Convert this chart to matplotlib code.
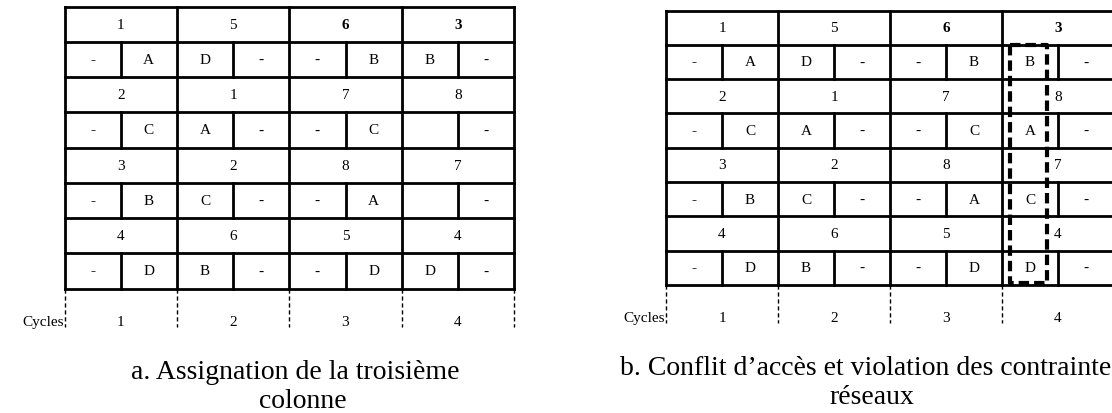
import numpy as np
import matplotlib.pyplot as plt

plt.rcParams['font.family'] = ['Liberation Serif', 'DejaVu Serif']

# numbers (top half of each step), one list per step
ids = [["1", "5", "6", "3"],
       ["2", "1", "7", "8"],
       ["3", "2", "8", "7"],
       ["4", "6", "5", "4"]]
# letters (bottom half), two slots per cycle
slots_a = [["-", "A", "D", "-", "-", "B", "B", "-"],
           ["-", "C", "A", "-", "-", "C", "", "-"],
           ["-", "B", "C", "-", "-", "A", "", "-"],
           ["-", "D", "B", "-", "-", "D", "D", "-"]]
slots_b = [["-", "A", "D", "-", "-", "B", "B", "-"],
           ["-", "C", "A", "-", "-", "C", "A", "-"],
           ["-", "B", "C", "-", "-", "A", "C", "-"],
           ["-", "D", "B", "-", "-", "D", "D", "-"]]
cycles = ["1", "2", "3", "4"]
captions = [["a. Assignation de la troisième", "colonne"],
            ["b. Conflit d\u2019accès et violation des contraintes", "réseaux"]]

fig = plt.figure(figsize=(11.12, 4.14), dpi=100)
ax = fig.add_axes([0, 0, 1, 1])
ax.set_xlim(0, 1112)
ax.set_ylim(414, 0)
ax.axis('off')

fs = 11
lw = 2.0


def draw_table(x0, y0, cw, rh, slots):
    n = len(ids)
    bottom = y0 + 2 * n * rh
    right = x0 + 4 * cw
    # horizontal lines
    for k in range(2 * n + 1):
        ax.plot([x0, right], [y0 + k * rh, y0 + k * rh], color='black', lw=lw,
                solid_capstyle='projecting')
    # column lines
    for j in range(5):
        ax.plot([x0 + j * cw, x0 + j * cw], [y0, bottom], color='black', lw=lw)
    # split lines in the letter rows
    for i in range(n):
        ya = y0 + (2 * i + 1) * rh
        for j in range(4):
            xs = x0 + (j + 0.5) * cw
            ax.plot([xs, xs], [ya, ya + rh], color='black', lw=lw)
    # texts
    for i in range(n):
        yn = y0 + (2 * i + 0.5) * rh
        yl = y0 + (2 * i + 1.5) * rh
        for j in range(4):
            w = 'bold' if (i == 0 and j >= 2) else 'normal'
            ax.text(x0 + (j + 0.5) * cw, yn, ids[i][j], ha='center', va='center',
                    fontsize=fs, fontweight=w)
        for k in range(8):
            w = 'bold' if k == 0 else 'normal'
            ax.text(x0 + (k + 0.5) * cw / 2, yl, slots[i][k], ha='center',
                    va='center', fontsize=fs, fontweight=w)
    # cycles row
    for j in range(5):
        ax.plot([x0 + j * cw, x0 + j * cw], [bottom, bottom + 38], color='black',
                lw=1.0, dashes=(3, 2))
    for j, c in enumerate(cycles):
        ax.text(x0 + (j + 0.5) * cw, bottom + 33, c, ha='center', va='center',
                fontsize=fs)
    ax.text(x0 - 1, bottom + 33, "Cycles", ha='right', va='center', fontsize=fs)
    return bottom


draw_table(64.5, 7.5, 112.4, 35.25, slots_a)
bot_b = draw_table(666, 11.5, 112, 34.3, slots_b)

# conflict box around the fourth cycle's first slot
bx0, bx1 = 666 + 3 * 112 + 8, 666 + 3 * 112 + 45
by0, by1 = 11.5 + 34.3, bot_b - 2
ax.plot([bx0, bx1, bx1, bx0, bx0], [by0, by0, by1, by1, by0], color='black',
        lw=3.0, dashes=(2.5, 1.2))

ax.text(295, 379, captions[0][0], ha='center', va='baseline', fontsize=20)
ax.text(303, 408, captions[0][1], ha='center', va='baseline', fontsize=20)
ax.text(871, 375, captions[1][0], ha='center', va='baseline', fontsize=20)
ax.text(872, 404, captions[1][1], ha='center', va='baseline', fontsize=20)

fig.savefig("out.png", dpi=100)
